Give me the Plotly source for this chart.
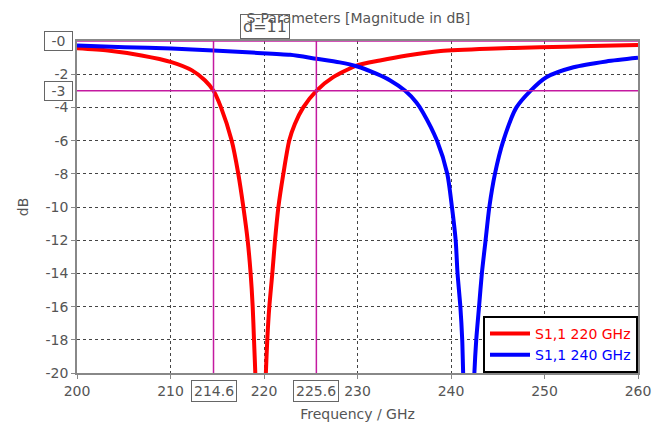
import plotly.graph_objects as go

# ---- data ----
freq_220 = [200, 203.3, 206.9, 210.1, 212.3, 213.7, 214.6, 215.4, 216.54, 217.25,
            217.79, 218.25, 218.57, 218.79, 218.93, 219.07, 219.6, 220.2, 220.35, 220.57,
            220.89, 221.18, 221.54, 222.07, 222.7, 223.3, 224.2, 225.6, 227.4, 229.9,
            232.4, 235.3, 238.9, 244, 249.5, 255, 260]
db_220 = [-0.43, -0.57, -0.87, -1.27, -1.77, -2.38, -3.0, -4, -6, -8,
          -10, -12, -14, -16, -18, -20, -30, -20, -18, -16,
          -14, -12, -10, -8, -6, -5, -4, -3.0, -2.18, -1.48,
          -1.17, -0.87, -0.6, -0.46, -0.38, -0.3, -0.24]

freq_240 = [200, 205.1, 210.1, 214.6, 218.7, 222.8, 225.6, 228.1, 229.9, 232.0, 233.5, 235.1,
            236.3, 237.0, 238.5, 239.6, 240.1, 240.5, 240.7, 241.0, 241.2, 241.3, 241.9, 242.5,
            242.7, 243.0, 243.3, 243.7, 244.1, 244.7, 245.6, 247.0, 248.5, 250.2, 253.1, 256.6, 260]
db_240 = [-0.27, -0.37, -0.45, -0.57, -0.7, -0.83, -1.07, -1.29, -1.52, -1.97, -2.38, -3,
          -3.7, -4.3, -6, -8, -10, -12, -14, -16, -18, -20, -30, -20,
          -18, -16, -14, -12, -10, -8, -6, -4, -3, -2.18, -1.58, -1.23, -1.01]

series_names = ["S1,1 220 GHz", "S1,1 240 GHz"]
series_colors = ["#ff0000", "#0000ff"]

marker_freqs = [214.6, 225.6]
marker_freq_labels = ["214.6", "225.6"]
marker_db = [0, -3]
marker_db_labels = ["-0", "-3"]
delta_label = "d=11"

x_ticks = [200, 210, 220, 230, 240, 250, 260]
y_ticks = [-20, -18, -16, -14, -12, -10, -8, -6, -4, -2]

title_text = "S-Parameters [Magnitude in dB]"
x_title = "Frequency / GHz"
y_title = "dB"

MAG = "#c41aa0"
GRAY = "#555555"
FONT = "DejaVu Sans"

fig = go.Figure()
for f, d, n, c in [(freq_220, db_220, series_names[0], series_colors[0]),
                   (freq_240, db_240, series_names[1], series_colors[1])]:
    fig.add_trace(go.Scatter(
        x=f, y=d, mode="lines", line=dict(color=c, width=4, shape="spline", smoothing=0.7),
        name=f"<span style='color:{c}'>{n}</span>"))

# marker lines
for fx in marker_freqs:
    fig.add_shape(type="line", xref="x", yref="y", x0=fx, x1=fx, y0=-20, y1=0,
                  line=dict(color=MAG, width=1.5), layer="above")
for dy in marker_db:
    fig.add_shape(type="line", xref="x", yref="y", x0=200, x1=260, y0=dy, y1=dy,
                  line=dict(color=MAG, width=1.5), layer="above")

# marker label boxes
def box(size=14, pad=2, bg="white"):
    return dict(bordercolor="#666666", borderwidth=1, borderpad=pad, bgcolor=bg,
                font=dict(family=FONT, size=size, color=GRAY), showarrow=False)

for fx, lab in zip(marker_freqs, marker_freq_labels):
    fig.add_annotation(x=fx, y=0, xref="x", yref="paper", yanchor="top", yshift=-7,
                       text=lab, **box(14, 2))
for dy, lab in zip(marker_db, marker_db_labels):
    fig.add_annotation(x=0, y=dy, xref="paper", yref="y", xanchor="right", xshift=-4,
                       text=lab, width=25, align="center", **box(14, 1))
fig.add_annotation(x=(marker_freqs[0] + marker_freqs[1]) / 2, y=1, xref="x", yref="paper",
                   yanchor="bottom", yshift=2, text=delta_label,
                   **box(16, 2, "rgba(0,0,0,0)"))

# the page adds an 8px body margin, so margins are offset by 8px
fig.update_layout(
    width=665, height=430,
    margin=dict(l=69, r=35, t=33, b=65),
    paper_bgcolor="white", plot_bgcolor="white",
    font=dict(family=FONT, size=14, color=GRAY),
    title=dict(text=title_text, x=0.527, xanchor="center", y=1 - 10 / 430, yanchor="middle",
               font=dict(family=FONT, size=14, color=GRAY)),
    showlegend=True,
    legend=dict(x=1, y=0, xanchor="right", yanchor="bottom", bgcolor="white",
                bordercolor="black", borderwidth=2, font=dict(family=FONT, size=14),
                tracegroupgap=0, itemwidth=40),
    xaxis=dict(range=[200, 260], tickvals=x_ticks, ticktext=[str(v) for v in x_ticks],
               showgrid=True, gridcolor="#444444", griddash="dot", gridwidth=1,
               showline=True, linecolor="#888888", linewidth=1.5, mirror=True,
               ticks="outside", ticklen=4, tickcolor="#888888", zeroline=False,
               title=dict(text=x_title, standoff=12, font=dict(size=14, color=GRAY)),
               tickfont=dict(size=14, color=GRAY)),
    yaxis=dict(range=[-20, 0], tickvals=y_ticks, ticktext=[str(v) for v in y_ticks],
               showgrid=True, gridcolor="#444444", griddash="dot", gridwidth=1,
               showline=True, linecolor="#888888", linewidth=1.5, mirror=True,
               ticks="outside", ticklen=4, tickcolor="#888888", zeroline=False,
               title=dict(text=y_title, standoff=14, font=dict(size=14, color=GRAY)),
               tickfont=dict(size=14, color=GRAY)),
)

fig.write_html("out.html")
